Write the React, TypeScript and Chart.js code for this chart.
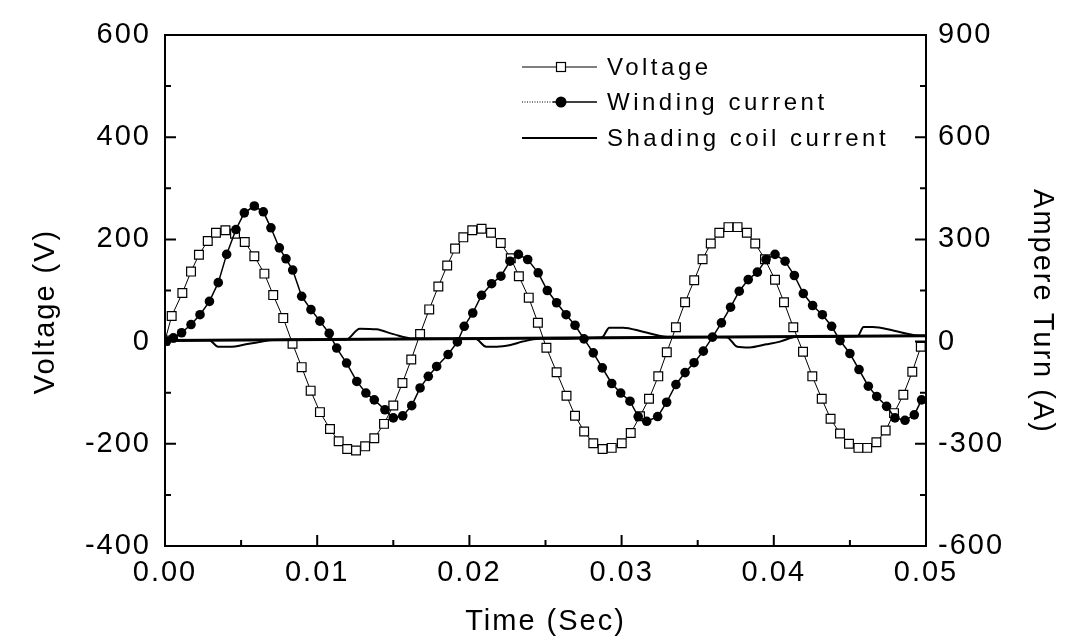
import React, { useEffect, useRef } from 'react';
import { Chart, registerables } from 'chart.js';

Chart.register(...registerables);

// ---- Data ----
const voltageTime = [
  0, 0.00044, 0.00114, 0.00171, 0.00223, 0.00281, 0.00335, 0.00397, 0.0046, 0.00524,
  0.00587, 0.00653, 0.00711, 0.00777, 0.00838, 0.00898, 0.00957, 0.01018, 0.01084, 0.01141,
  0.01197, 0.01255, 0.01315, 0.01375, 0.01439, 0.015, 0.0156, 0.01618, 0.01676, 0.01736,
  0.01796, 0.01854, 0.01906, 0.0196, 0.02019, 0.0208, 0.02142, 0.02206, 0.02272, 0.02325,
  0.0239, 0.0245, 0.02506, 0.02573, 0.02638, 0.02694, 0.02754, 0.02814, 0.02875, 0.02935,
  0.03001, 0.0306, 0.03121, 0.0318, 0.03241, 0.03297, 0.03357, 0.03417, 0.03477, 0.03532,
  0.03586, 0.03642, 0.03702, 0.03762, 0.03823, 0.03878, 0.03942, 0.04008, 0.04067, 0.04128,
  0.04192, 0.04253, 0.04315, 0.04373, 0.04435, 0.04494, 0.04556, 0.04614, 0.04674, 0.04735,
  0.0479, 0.04851, 0.0491, 0.04966,
];
const voltageValues = [
  2, 50, 95, 137, 170, 197, 213, 218, 211, 195,
  167, 133, 91, 46, -4, -50, -96, -138, -171, -195,
  -210, -213, -205, -189, -161, -125, -81, -35, 15, 63,
  108, 149, 182, 204, 218, 221, 213, 193, 163, 128,
  86, 37, -12, -60, -106, -145, -176, -199, -210, -208,
  -199, -179, -146, -112, -68, -21, 28, 77, 120, 161,
  192, 213, 224, 224, 213, 192, 161, 121, 77, 28,
  -20, -68, -112, -151, -180, -200, -208, -208, -197, -174,
  -140, -104, -59, -10,
];

const windingTime = [
  0.0001, 0.00055, 0.00109, 0.00171, 0.0023, 0.00292, 0.0035, 0.00405, 0.00466, 0.00521,
  0.00587, 0.00646, 0.00696, 0.00751, 0.00795, 0.00839, 0.00898, 0.00959, 0.01018, 0.01079,
  0.01128, 0.01193, 0.0126, 0.0132, 0.01375, 0.01445, 0.015, 0.01562, 0.01621, 0.01676,
  0.0173, 0.01785, 0.0186, 0.01921, 0.01966, 0.02022, 0.0208, 0.02146, 0.02207, 0.02267,
  0.02322, 0.02383, 0.02452, 0.02512, 0.02573, 0.02635, 0.02694, 0.02753, 0.02814, 0.02873,
  0.02935, 0.02994, 0.03055, 0.03109, 0.03165, 0.03237, 0.03296, 0.03357, 0.03417, 0.03476,
  0.03537, 0.03597, 0.03656, 0.03716, 0.03773, 0.03832, 0.03892, 0.03949, 0.04008, 0.04074,
  0.04135, 0.04194, 0.04255, 0.04319, 0.0438, 0.04435, 0.045, 0.0456, 0.04621, 0.04676,
  0.04741, 0.04796, 0.04862, 0.04923, 0.04971,
];
const windingValues = [
  1, 11, 26, 50, 79, 118, 173, 256, 329, 378,
  398, 381, 334, 275, 243, 210, 133, 94, 60, 24,
  -19, -63, -117, -151, -171, -200, -224, -218, -188, -136,
  -102, -73, -38, -1, 45, 84, 136, 170, 192, 236,
  256, 241, 202, 150, 114, 79, 48, 8, -33, -77,
  -123, -151, -175, -220, -234, -220, -178, -126, -91, -62,
  -28, 13, 55, 101, 148, 182, 204, 241, 256, 236,
  194, 141, 106, 79, 45, 3, -35, -82, -131, -161,
  -190, -224, -231, -215, -171,
];

const shadingTime = [
  0, 0.0029, 0.0035, 0.0044, 0.0051, 0.0062, 0.0071,
  0.0119, 0.0128, 0.0139, 0.015, 0.0163,
  0.0204, 0.0211, 0.0218, 0.0227, 0.0235, 0.0246,
  0.0287, 0.0292, 0.0301, 0.0314, 0.033,
  0.0369, 0.0376, 0.0384, 0.0395, 0.0404, 0.0415,
  0.0455, 0.0459, 0.0465, 0.0479, 0.0494, 0.05,
];
const shadingValues = [
  3, 4, -15, -15, -10, -1, 5,
  6, 38, 36, 22, 9,
  8, -15, -15, -10, 0, 8,
  12, 41, 41, 29, 14,
  13, -15, -17, -8, 0, 14,
  16, 43, 43, 32, 18, 17,
];

const baselineTime = [0, 0.05];
const baselineValues = [3, 17];

const xTicks = [0, 0.01, 0.02, 0.03, 0.04, 0.05];
const leftTicks = [-400, -200, 0, 200, 400, 600];
const rightTicks = [-600, -300, 0, 300, 600, 900];
const legendLabels = ['Voltage', 'Winding current', 'Shading coil current'];
const xTitle = 'Time (Sec)';
const leftTitle = 'Voltage (V)';
const rightTitle = 'Ampere Turn (A)';

const FONT = '"Liberation Sans", Arial, Helvetica, sans-serif';

const toPoints = (t: number[], v: number[]) => t.map((x, i) => ({ x, y: v[i] }));

const spacingPlugin = {
  id: 'spacing',
  beforeInit(chart: any) {
    try { chart.ctx.letterSpacing = '2px'; } catch (e) { /* ignore */ }
  },
  beforeDraw(chart: any) {
    try { chart.ctx.letterSpacing = '2px'; } catch (e) { /* ignore */ }
  },
};

const frameTicksPlugin = {
  id: 'frameTicks',
  afterDatasetsDraw(chart: any) {
    const { ctx, chartArea: a, scales } = chart;
    ctx.save();
    ctx.strokeStyle = '#000';
    ctx.lineWidth = 2;
    ctx.strokeRect(a.left, a.top, a.right - a.left, a.bottom - a.top);
    const major = 11;
    const minor = 6;
    ctx.beginPath();
    for (let i = 0; i < xTicks.length; i++) {
      const px = scales.x.getPixelForValue(xTicks[i]);
      ctx.moveTo(px, a.bottom);
      ctx.lineTo(px, a.bottom - major);
      if (i < xTicks.length - 1) {
        const pm = scales.x.getPixelForValue((xTicks[i] + xTicks[i + 1]) / 2);
        ctx.moveTo(pm, a.bottom);
        ctx.lineTo(pm, a.bottom - minor);
      }
    }
    for (let i = 0; i < leftTicks.length; i++) {
      const py = scales.y.getPixelForValue(leftTicks[i]);
      ctx.moveTo(a.left, py);
      ctx.lineTo(a.left + major, py);
      if (i < leftTicks.length - 1) {
        const pm = scales.y.getPixelForValue((leftTicks[i] + leftTicks[i + 1]) / 2);
        ctx.moveTo(a.left, pm);
        ctx.lineTo(a.left + minor, pm);
      }
    }
    for (let i = 0; i < rightTicks.length; i++) {
      const py = scales.y1.getPixelForValue(rightTicks[i]);
      ctx.moveTo(a.right, py);
      ctx.lineTo(a.right - major, py);
      if (i < rightTicks.length - 1) {
        const pm = scales.y1.getPixelForValue((rightTicks[i] + rightTicks[i + 1]) / 2);
        ctx.moveTo(a.right, pm);
        ctx.lineTo(a.right - minor, pm);
      }
    }
    ctx.stroke();
    ctx.restore();
  },
};

const titlesPlugin = {
  id: 'yTitles',
  afterDraw(chart: any) {
    const { ctx, chartArea: a } = chart;
    const cy = (a.top + a.bottom) / 2 + 21;
    ctx.save();
    ctx.font = `29px ${FONT}`;
    try { ctx.letterSpacing = '2px'; } catch (e) { /* ignore */ }
    ctx.fillStyle = '#000';
    ctx.textAlign = 'center';
    ctx.textBaseline = 'middle';
    ctx.save();
    ctx.translate(46, cy);
    ctx.rotate(-Math.PI / 2);
    ctx.fillText(leftTitle, 0, 0);
    ctx.restore();
    ctx.save();
    ctx.translate(1042, cy);
    ctx.rotate(Math.PI / 2);
    ctx.fillText(rightTitle, 0, 0);
    ctx.restore();
    ctx.restore();
  },
};

const legendPlugin = {
  id: 'customLegend',
  afterDraw(chart: any) {
    const { ctx } = chart;
    const rows = [67, 102, 138];
    const x0 = 522;
    const x1 = 597;
    const mx = 561;
    ctx.save();
    ctx.strokeStyle = '#000';
    ctx.fillStyle = '#000';
    ctx.lineWidth = 1.2;
    ctx.beginPath();
    ctx.moveTo(x0, rows[0]);
    ctx.lineTo(x1, rows[0]);
    ctx.stroke();
    ctx.fillStyle = '#fff';
    ctx.fillRect(mx - 4.5, rows[0] - 4.5, 9, 9);
    ctx.strokeRect(mx - 4.5, rows[0] - 4.5, 9, 9);
    ctx.fillStyle = '#000';
    ctx.lineWidth = 1;
    ctx.setLineDash([1, 1.5]);
    ctx.beginPath();
    ctx.moveTo(x0, rows[1]);
    ctx.lineTo(mx - 8, rows[1]);
    ctx.stroke();
    ctx.setLineDash([]);
    ctx.lineWidth = 1.4;
    ctx.beginPath();
    ctx.moveTo(mx - 8, rows[1]);
    ctx.lineTo(x1, rows[1]);
    ctx.stroke();
    ctx.beginPath();
    ctx.arc(mx, rows[1], 5.5, 0, Math.PI * 2);
    ctx.fill();
    ctx.lineWidth = 2;
    ctx.beginPath();
    ctx.moveTo(x0, rows[2]);
    ctx.lineTo(x1, rows[2]);
    ctx.stroke();
    ctx.font = `24px ${FONT}`;
    try { ctx.letterSpacing = '3.5px'; } catch (e) { /* ignore */ }
    ctx.textAlign = 'left';
    ctx.textBaseline = 'middle';
    ctx.fillStyle = '#000';
    legendLabels.forEach((label, i) => ctx.fillText(label, 607, rows[i] + 1));
    ctx.restore();
  },
};

export default function App() {
  const canvasRef = useRef<HTMLCanvasElement | null>(null);

  useEffect(() => {
    if (!canvasRef.current) return;
    const tickFont = { family: FONT, size: 29 };
    const chart = new Chart(canvasRef.current, {
      type: 'line',
      data: {
        datasets: [
          {
            label: legendLabels[0],
            data: toPoints(voltageTime, voltageValues),
            yAxisID: 'y',
            borderColor: '#000',
            borderWidth: 1,
            pointStyle: 'rect',
            pointRadius: 6.2,
            pointBorderWidth: 1.2,
            pointBackgroundColor: '#fff',
            pointBorderColor: '#000',
            tension: 0,
            order: 3,
          },
          {
            label: legendLabels[1],
            data: toPoints(windingTime, windingValues),
            yAxisID: 'y1',
            borderColor: '#000',
            borderWidth: 1.5,
            pointStyle: 'circle',
            pointRadius: 4.8,
            pointBorderWidth: 0,
            pointBackgroundColor: '#000',
            pointBorderColor: '#000',
            tension: 0,
            order: 2,
          },
          {
            label: legendLabels[2],
            data: toPoints(shadingTime, shadingValues),
            yAxisID: 'y1',
            borderColor: '#000',
            borderWidth: 2,
            pointRadius: 0,
            cubicInterpolationMode: 'monotone',
            order: 1,
          },
          {
            label: 'baseline',
            data: toPoints(baselineTime, baselineValues),
            yAxisID: 'y1',
            borderColor: '#000',
            borderWidth: 3,
            pointRadius: 0,
            order: 0,
          },
        ],
      },
      options: {
        animation: false,
        responsive: true,
        maintainAspectRatio: false,
        layout: { padding: { top: 35, left: 0, right: 0, bottom: 0 } },
        plugins: {
          legend: { display: false },
          tooltip: { enabled: false },
        },
        scales: {
          x: {
            type: 'linear',
            position: 'bottom',
            min: 0,
            max: 0.05,
            afterBuildTicks: (scale: any) => {
              scale.ticks = xTicks.map((v) => ({ value: v }));
            },
            afterFit: (scale: any) => {
              scale.height = 95;
            },
            grid: { display: false, drawTicks: false },
            border: { display: false },
            ticks: {
              color: '#000',
              font: tickFont,
              padding: 10,
              maxRotation: 0,
              autoSkip: false,
              callback: (v: any) => Number(v).toFixed(2),
            },
            title: {
              display: true,
              text: xTitle,
              color: '#000',
              font: tickFont,
              padding: { top: 0, bottom: 2 },
            },
          },
          y: {
            type: 'linear',
            position: 'left',
            min: -400,
            max: 600,
            afterBuildTicks: (scale: any) => {
              scale.ticks = leftTicks.map((v) => ({ value: v }));
            },
            afterFit: (scale: any) => {
              scale.width = 165;
            },
            grid: { display: false, drawTicks: false },
            border: { display: false },
            ticks: {
              color: '#000',
              font: tickFont,
              padding: 14,
              autoSkip: false,
            },
            title: { display: false },
          },
          y1: {
            type: 'linear',
            position: 'right',
            min: -600,
            max: 900,
            afterBuildTicks: (scale: any) => {
              scale.ticks = rightTicks.map((v) => ({ value: v }));
            },
            afterFit: (scale: any) => {
              scale.width = 145;
            },
            grid: { display: false, drawTicks: false },
            border: { display: false },
            ticks: {
              color: '#000',
              font: tickFont,
              padding: 12,
              autoSkip: false,
            },
            title: { display: false },
          },
        },
      },
      plugins: [spacingPlugin, frameTicksPlugin, titlesPlugin, legendPlugin],
    } as any);
    return () => chart.destroy();
  }, []);

  return (
    <div
      style={{
        position: 'fixed',
        left: 0,
        top: 0,
        width: 1071,
        height: 641,
        background: '#fff',
      }}
    >
      <canvas ref={canvasRef} />
    </div>
  );
}
